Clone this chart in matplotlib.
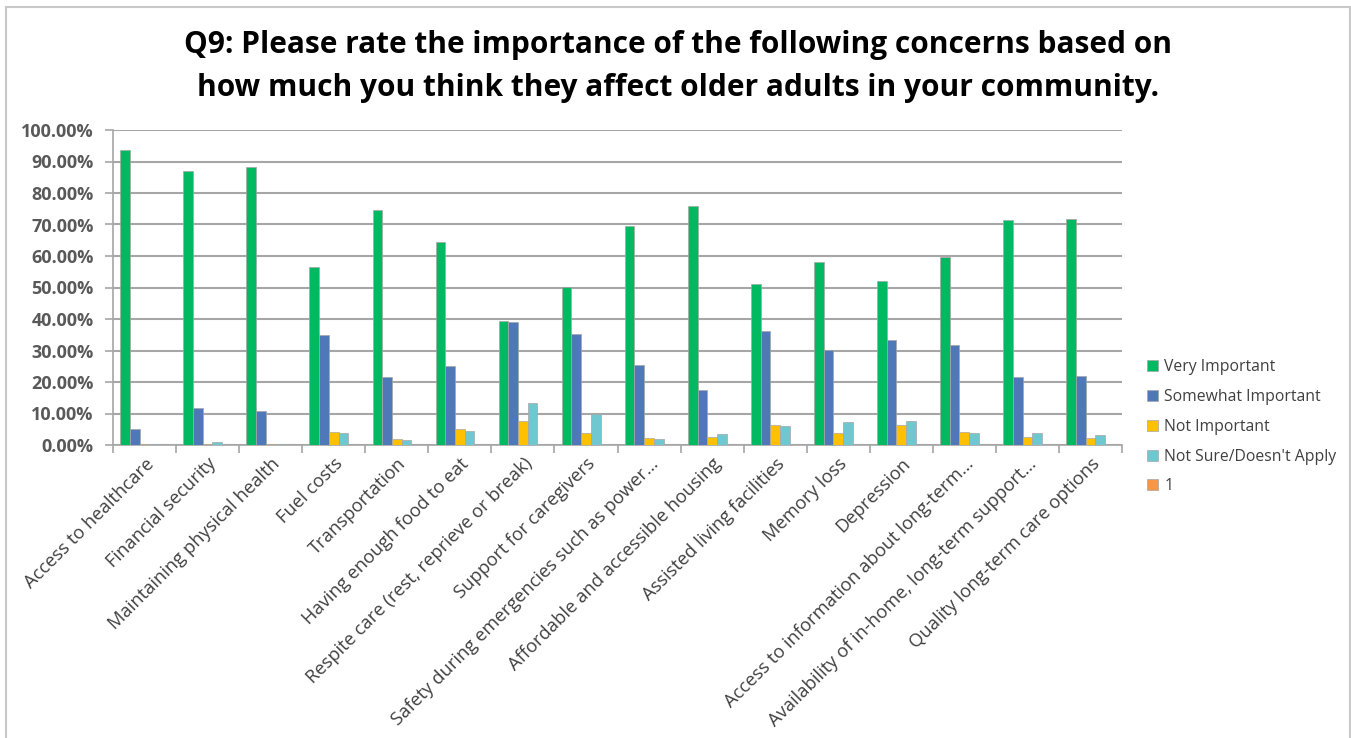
import matplotlib
matplotlib.use("Agg")
import matplotlib.pyplot as plt
import numpy as np
from matplotlib.patches import Rectangle
from matplotlib.ticker import FuncFormatter, MultipleLocator

categories = [
    "Access to healthcare",
    "Financial security",
    "Maintaining physical health",
    "Fuel costs",
    "Transportation",
    "Having enough food to eat",
    "Respite care (rest, reprieve or break)",
    "Support for caregivers",
    "Safety during emergencies such as power…",
    "Affordable and accessible housing",
    "Assisted living facilities",
    "Memory loss",
    "Depression",
    "Access to information about long-term…",
    "Availability of in-home, long-term support…",
    "Quality long-term care options",
]

very_important = [93.5, 86.9, 88.4, 56.6, 74.5, 64.3, 39.3, 50.3, 69.6, 75.8, 51.0, 58.0, 52.2, 59.7, 71.4, 71.6]
somewhat_important = [5.2, 11.7, 10.8, 34.8, 21.5, 25.1, 38.9, 35.1, 25.5, 17.5, 36.1, 30.3, 33.2, 31.9, 21.5, 21.9]
not_important = [0.4, 0.2, 0.2, 4.2, 1.9, 5.2, 7.5, 3.9, 2.1, 2.6, 6.5, 3.9, 6.3, 4.2, 2.6, 2.3]
not_sure = [0.4, 0.8, 0.2, 3.9, 1.5, 4.4, 13.2, 9.8, 1.9, 3.4, 6.0, 7.2, 7.5, 3.7, 3.9, 3.3]
series_one = [0.0] * 16

series_names = ["Very Important", "Somewhat Important", "Not Important", "Not Sure/Doesn't Apply", "1"]
series_values = [very_important, somewhat_important, not_important, not_sure, series_one]
colors = ["#00B960", "#4F78B8", "#FFC000", "#6FC8D0", "#F79646"]

plt.rcParams["font.family"] = ["Open Sans", "DejaVu Sans"]

fig = plt.figure(figsize=(13.51, 7.38), dpi=100)
W, H = 1351, 738
ax = fig.add_axes([113 / W, 1 - 445 / H, (1122 - 113) / W, (445 - 130) / H])

n = len(series_values)
bw = 1 / 6.5
x = np.arange(len(categories))
for i, (name, vals, c) in enumerate(zip(series_names, series_values, colors)):
    offs = (i - (n - 1) / 2) * bw
    ax.bar(x + offs, [v / 100 for v in vals], width=bw, color=c, edgecolor="#A6A6A6",
           linewidth=0.5, label=name, zorder=3)

ax.set_xlim(-0.5, len(categories) - 0.5)
ax.set_ylim(0, 1.0)
ax.yaxis.set_major_locator(MultipleLocator(0.1))
ax.yaxis.set_major_formatter(FuncFormatter(lambda v, p: f"{v*100:.2f}%"))
ax.grid(axis="y", color="#A6A6A6", linewidth=1.5, zorder=0)
for s in ["top", "right"]:
    ax.spines[s].set_visible(False)
for s in ["left", "bottom"]:
    ax.spines[s].set_color("#A6A6A6")
    ax.spines[s].set_linewidth(1.2)

ax.set_xticks(x)
ax.set_xticklabels(categories, rotation=45, ha="right", rotation_mode="anchor",
                   fontsize=13.2, color="#404040")
ax.tick_params(axis="x", length=0, pad=7)
ax.set_xticks(np.arange(-0.5, len(categories) + 0.5, 1), minor=True)
ax.tick_params(axis="x", which="minor", length=6, color="#A6A6A6", width=1.2)
ax.tick_params(axis="y", length=6, color="#A6A6A6", width=1.2, labelsize=13,
               labelcolor="#595959", pad=8)
for lab in ax.get_yticklabels():
    lab.set_fontweight("bold")

fig.text(678 / W, 1 - 45 / H,
         "Q9: Please rate the importance of the following concerns based on",
         ha="center", va="center", fontsize=21.5, fontweight="bold", color="#000000")
fig.text(678 / W, 1 - 88 / H,
         "how much you think they affect older adults in your community.",
         ha="center", va="center", fontsize=21.5, fontweight="bold", color="#000000")

leg = fig.legend(loc="upper left", bbox_to_anchor=(1133 / W, 1 - 345 / H), frameon=False,
                 fontsize=11.3, handlelength=0.7, handleheight=0.7, handletextpad=0.4,
                 labelspacing=0.88, labelcolor="#404040")

fig.add_artist(Rectangle((6 / W, -0.01), (1350 - 6) / W, 1 - 7 / H + 0.01,
                         transform=fig.transFigure, fill=False, edgecolor="#C8C8C8",
                         linewidth=1.5))

fig.savefig("out.png", dpi=100)
